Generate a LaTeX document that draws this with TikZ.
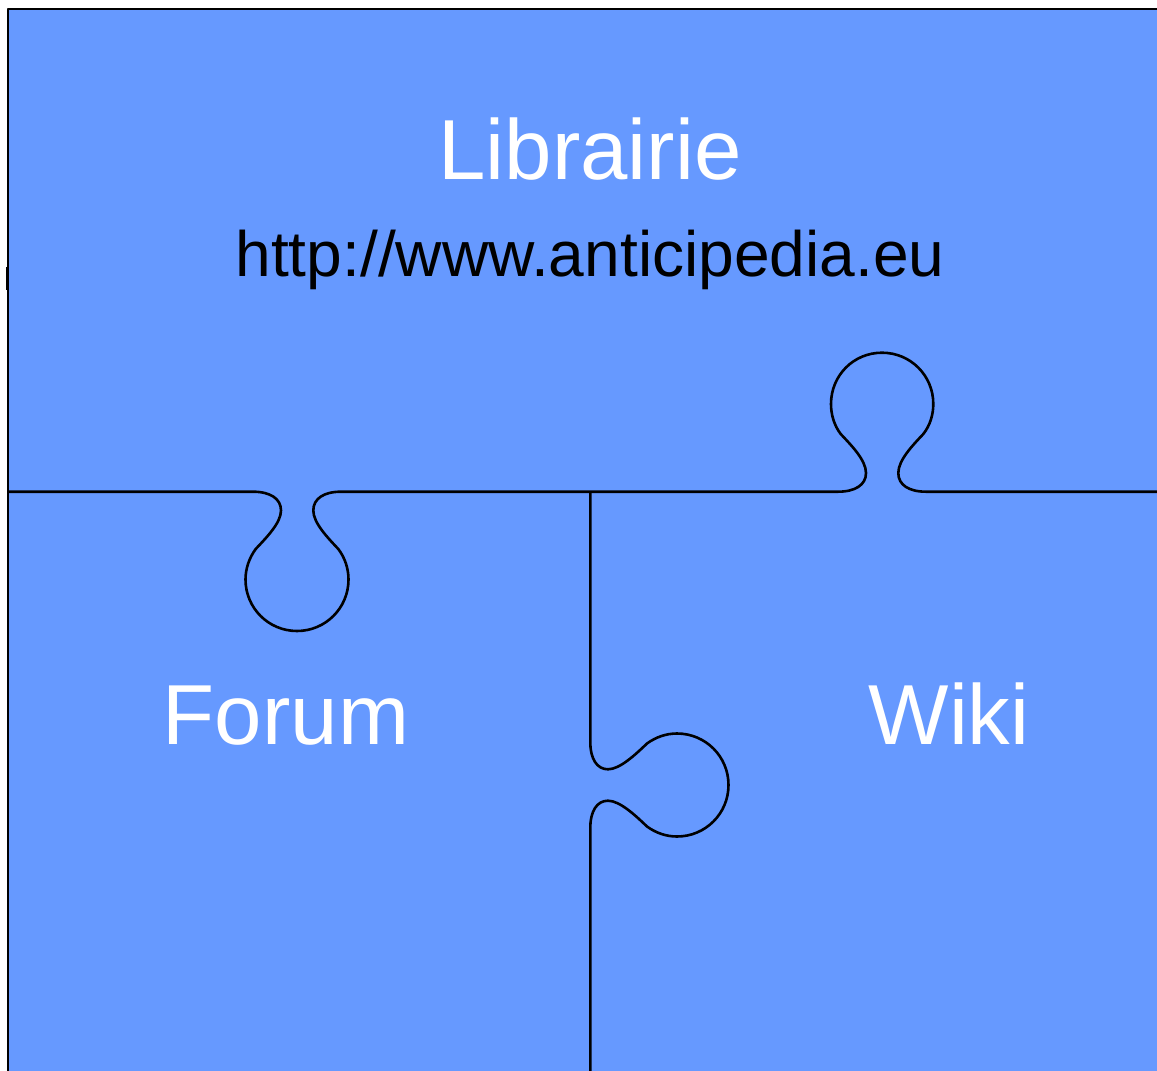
\documentclass[tikz,border=0pt]{standalone}
\usepackage{fontspec}
\setmainfont{Liberation Sans}
\definecolor{puzzleblue}{HTML}{6699FF}
\tikzset{
  edgeline/.style={draw=black,line width=2.6pt,line join=round},
  bigwhite/.style={text=white,font=\fontsize{85.2}{85}\selectfont,anchor=base,inner sep=0pt},
  urltext/.style={text=black,font=\fontsize{64.1}{64}\selectfont,anchor=base,inner sep=0pt}
}
\begin{document}
\begin{tikzpicture}[x=1pt,y=-1pt]
\useasboundingbox (0,0) rectangle (1157,1071);
\fill[puzzleblue] (8,9) rectangle (1157,1071);
% frame
\draw[edgeline] (8,1071) -- (8,9) -- (1157,9);
\draw[black,line width=1.2pt] (6.8,267) -- (6.8,290);
% horizontal seam with both tabs
\draw[edgeline] (8,491.7) -- (253,491.7)
  .. controls (270,491.7) and (281,498.5) .. (281,510.5)
  .. controls (281,523) and (266,538) .. (255.7,549)
  .. controls (249.2,557.9) and (245.5,568.6) .. (245.5,579.5)
  .. controls (245.5,608) and (268.5,631) .. (297,631)
  .. controls (325.5,631) and (348.5,608) .. (348.5,579.5)
  .. controls (348.5,568.6) and (345,557.9) .. (338.3,549)
  .. controls (328,538) and (313.3,523) .. (313.3,510.5)
  .. controls (313.3,498.5) and (324,491.7) .. (341,491.7)
  -- (838,491.7)
  .. controls (855,491.7) and (866,485) .. (866,473)
  .. controls (866,460) and (851,445) .. (840.7,434)
  .. controls (834.2,425.5) and (831,414.8) .. (831,404)
  .. controls (831,375.5) and (853.5,352.7) .. (882,352.7)
  .. controls (910.5,352.7) and (933.3,375.5) .. (933.3,404)
  .. controls (933.3,414.8) and (930,425.5) .. (923.3,434)
  .. controls (913,445) and (898.3,460) .. (898.3,473)
  .. controls (898.3,485) and (909,491.7) .. (926,491.7)
  -- (1157,491.7);
% vertical seam with its tab
\draw[edgeline] (590.3,491.7) -- (590.3,742)
  .. controls (590.3,759) and (597,769.3) .. (608,769.3)
  .. controls (620,769.3) and (636,754) .. (647,743.5)
  .. controls (656,737) and (666.2,733.5) .. (677,733.5)
  .. controls (705.5,733.5) and (728.5,756.5) .. (728.5,785)
  .. controls (728.5,813.5) and (705.5,836.5) .. (677,836.5)
  .. controls (666.2,836.5) and (656,833) .. (647,826.5)
  .. controls (636,816) and (620,800.7) .. (608,800.7)
  .. controls (597,800.7) and (590.3,811) .. (590.3,828)
  -- (590.3,1071);
% labels
\node[bigwhite] (lib) at (590,179) {Librairie};
\node[urltext] (url) at (590,276) {http://www.anticipedia.eu};
\node[bigwhite] (forum) at (286,744) {Forum};
\node[bigwhite] (wiki) at (949,744) {Wiki};
\end{tikzpicture}
\end{document}
